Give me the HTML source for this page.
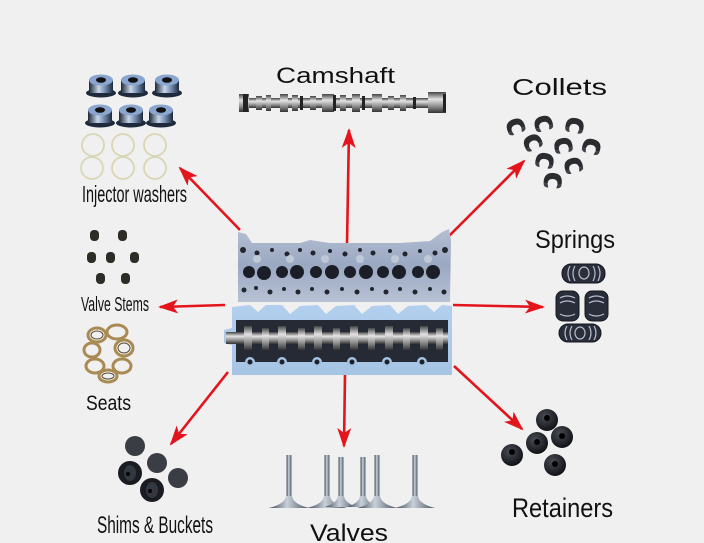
<!DOCTYPE html>
<html><head><meta charset="utf-8"><style>
html,body{margin:0;padding:0;background:#f0f0f0;}
svg{display:block;}
text{font-family:"Liberation Sans",sans-serif;fill:#111;}
</style></head><body>
<svg width="704" height="543" viewBox="0 0 704 543" xmlns="http://www.w3.org/2000/svg">
<defs>
 <linearGradient id="metal" x1="0" y1="0" x2="0" y2="1">
  <stop offset="0" stop-color="#444"/><stop offset="0.35" stop-color="#e4e4e4"/><stop offset="0.7" stop-color="#8a8a8a"/><stop offset="1" stop-color="#333"/>
 </linearGradient>
 <linearGradient id="metalv" x1="0" y1="0" x2="1" y2="0">
  <stop offset="0" stop-color="#3a4450"/><stop offset="0.45" stop-color="#c8d0da"/><stop offset="1" stop-color="#4a5560"/>
 </linearGradient>
 <linearGradient id="cyl" x1="0" y1="0" x2="1" y2="0">
  <stop offset="0" stop-color="#1c2838"/><stop offset="0.4" stop-color="#c8d6ea"/><stop offset="0.7" stop-color="#6d84a6"/><stop offset="1" stop-color="#1c2838"/>
 </linearGradient>
 <linearGradient id="upper" x1="0" y1="0" x2="0" y2="1">
  <stop offset="0" stop-color="#b4bfd2"/><stop offset="0.5" stop-color="#9aa8c2"/><stop offset="1" stop-color="#b8c2d4"/>
 </linearGradient>
 <linearGradient id="lower" x1="0" y1="0" x2="0" y2="1">
  <stop offset="0" stop-color="#b2cfee"/><stop offset="1" stop-color="#a6c4e4"/>
 </linearGradient>
 <radialGradient id="ret" cx="0.4" cy="0.35" r="0.7">
  <stop offset="0" stop-color="#4a4e56"/><stop offset="1" stop-color="#0c0d10"/>
 </radialGradient>
 <marker id="ah" viewBox="0 0 20 14" refX="18" refY="7" markerWidth="20" markerHeight="14" markerUnits="userSpaceOnUse" orient="auto">
  <path d="M0,0 L20,7 L0,14 L5,7 Z" fill="#e3141c"/>
 </marker>
 <g id="collet"><path d="M-9,5 Q-10,-6 0,-6 Q10,-6 9,5 L5,5 Q5,0 0,0 Q-5,0 -5,5Z" fill="#2a2c30"/><path d="M-9,5 Q-9,9 -4,9 L-5,5Z M9,5 Q9,9 4,9 L5,5Z" fill="#3d4046"/></g>
 <g id="hat"><ellipse cx="0" cy="9" rx="15" ry="4.5" fill="#1e2a3c"/><rect x="-12" y="-4" width="24" height="13" fill="url(#cyl)"/><ellipse cx="0" cy="-4" rx="12" ry="5.5" fill="#8aa6cf"/><ellipse cx="0" cy="-4" rx="5" ry="2.8" fill="#111"/></g>
</defs>

<!-- Arrows -->
<g stroke="#e3141c" stroke-width="2.6" fill="none" marker-end="url(#ah)">
 <line x1="347" y1="244" x2="349" y2="130"/>
 <line x1="240" y1="230" x2="180" y2="168"/>
 <line x1="448" y1="237" x2="524" y2="161"/>
 <line x1="453" y1="305" x2="543" y2="307"/>
 <line x1="225" y1="305" x2="160" y2="307"/>
 <line x1="228" y1="372" x2="171" y2="444"/>
 <line x1="345" y1="374" x2="344" y2="446"/>
 <line x1="454" y1="366" x2="522" y2="429"/>
</g>

<!-- Engine head upper -->
<path d="M238,232 L246,234 L252,243 L300,243 L310,240 L330,243 L400,243 L430,241 L442,232 L449,229 L451,240 L450,302 L238,302 Z" fill="url(#upper)"/>
<g fill="#1b1e26">
 <circle cx="249" cy="272" r="6"/><circle cx="264" cy="273" r="7"/><circle cx="282" cy="272" r="6"/><circle cx="297" cy="272" r="7"/>
 <circle cx="316" cy="272" r="6"/><circle cx="332" cy="272" r="7"/><circle cx="350" cy="272" r="6"/><circle cx="366" cy="272" r="7"/>
 <circle cx="383" cy="272" r="6"/><circle cx="399" cy="272" r="7"/><circle cx="418" cy="272" r="6"/><circle cx="433" cy="272" r="7"/>
</g>
<g fill="#22262e">
 <circle cx="243" cy="250" r="3"/><circle cx="257" cy="253" r="2.5"/><circle cx="272" cy="250" r="2"/><circle cx="287" cy="254" r="2.5"/><circle cx="300" cy="250" r="2"/><circle cx="313" cy="253" r="2.5"/><circle cx="330" cy="251" r="2"/><circle cx="345" cy="254" r="2.5"/><circle cx="360" cy="250" r="2"/><circle cx="373" cy="253" r="2.5"/><circle cx="390" cy="251" r="2"/><circle cx="405" cy="254" r="2.5"/><circle cx="420" cy="251" r="2"/><circle cx="435" cy="253" r="2.5"/><circle cx="445" cy="250" r="3"/>
 <circle cx="244" cy="290" r="2.5"/><circle cx="256" cy="288" r="2"/><circle cx="270" cy="292" r="2.5"/><circle cx="284" cy="289" r="2"/><circle cx="298" cy="292" r="2.5"/><circle cx="312" cy="289" r="2"/><circle cx="327" cy="292" r="2.5"/><circle cx="342" cy="289" r="2"/><circle cx="357" cy="292" r="2.5"/><circle cx="372" cy="289" r="2"/><circle cx="386" cy="292" r="2.5"/><circle cx="400" cy="289" r="2"/><circle cx="415" cy="292" r="2.5"/><circle cx="430" cy="289" r="2"/><circle cx="444" cy="292" r="2.5"/>
</g>
<g fill="#c9d0dc" opacity="0.8">
 <circle cx="257" cy="259" r="4"/><circle cx="290" cy="259" r="4"/><circle cx="325" cy="259" r="4"/><circle cx="360" cy="259" r="4"/><circle cx="395" cy="259" r="4"/><circle cx="428" cy="259" r="4"/>
</g>

<!-- Engine head lower -->
<path d="M232,307 L250,305 L258,312 L266,305 L282,305 L290,314 L300,306 L318,305 L326,314 L336,306 L354,305 L362,314 L372,306 L390,305 L398,314 L408,306 L426,305 L434,312 L442,305 L452,306 L452,375 L232,375 L232,345 L224,343 L224,330 L232,328 Z" fill="url(#lower)"/>
<rect x="236" y="320" width="212" height="42" fill="#262a34"/>
<rect x="226" y="332" width="222" height="12" fill="url(#metal)"/>
<g fill="url(#metal)">
 <rect x="244" y="326" width="8" height="24"/><rect x="262" y="328" width="7" height="22"/><rect x="278" y="326" width="8" height="24"/><rect x="298" y="328" width="7" height="22"/><rect x="314" y="326" width="8" height="24"/><rect x="333" y="328" width="7" height="22"/><rect x="350" y="326" width="8" height="24"/><rect x="368" y="328" width="7" height="22"/><rect x="385" y="326" width="8" height="24"/><rect x="403" y="328" width="7" height="22"/><rect x="420" y="326" width="8" height="24"/><rect x="436" y="328" width="7" height="22"/>
</g>
<g fill="#a4c2e2">
 <circle cx="250" cy="362" r="5"/><circle cx="282" cy="362" r="5"/><circle cx="317" cy="362" r="5"/><circle cx="352" cy="362" r="5"/><circle cx="387" cy="362" r="5"/><circle cx="422" cy="362" r="5"/>
</g>
<g fill="#1c2028">
 <circle cx="250" cy="362" r="2.5"/><circle cx="282" cy="362" r="2.5"/><circle cx="317" cy="362" r="2.5"/><circle cx="352" cy="362" r="2.5"/><circle cx="387" cy="362" r="2.5"/><circle cx="422" cy="362" r="2.5"/>
</g>

<!-- Camshaft -->
<rect x="240" y="98" width="206" height="10" fill="url(#metal)"/>
<g fill="url(#metal)">
 <rect x="239" y="94" width="10" height="18"/><rect x="256" y="96" width="6" height="14"/><rect x="266" y="95" width="5" height="16"/><rect x="280" y="94" width="8" height="18"/><rect x="292" y="95" width="6" height="16"/><rect x="310" y="96" width="6" height="14"/><rect x="322" y="94" width="12" height="18"/><rect x="340" y="95" width="6" height="16"/><rect x="352" y="94" width="8" height="18"/><rect x="372" y="94" width="10" height="18"/><rect x="388" y="96" width="6" height="14"/><rect x="400" y="95" width="6" height="16"/><rect x="428" y="92" width="18" height="21"/>
</g>
<g fill="#222">
 <rect x="243" y="94" width="5" height="18"/><rect x="300" y="96" width="3" height="14"/><rect x="333" y="95" width="3" height="16"/><rect x="362" y="96" width="3" height="14"/><rect x="413" y="97" width="3" height="12"/><rect x="443" y="94" width="3" height="18"/>
</g>

<!-- Injector washers -->
<use href="#hat" x="101" y="84"/><use href="#hat" x="133" y="84"/><use href="#hat" x="167" y="84"/>
<use href="#hat" x="100" y="114"/><use href="#hat" x="131" y="114"/><use href="#hat" x="161" y="114"/>
<g fill="none" stroke="#d8d6b4" stroke-width="1.8">
 <circle cx="93" cy="145" r="11"/><circle cx="123" cy="145" r="11"/><circle cx="155" cy="145" r="11"/>
 <circle cx="92" cy="168" r="11"/><circle cx="123" cy="168" r="11"/><circle cx="155" cy="168" r="11"/>
</g>

<!-- Collets -->
<use href="#collet" transform="translate(515,125) rotate(-20)"/>
<use href="#collet" transform="translate(543,122) rotate(-15)"/>
<use href="#collet" transform="translate(575,124) rotate(10)"/>
<use href="#collet" transform="translate(532,141) rotate(-25)"/>
<use href="#collet" transform="translate(563,144) rotate(-10)"/>
<use href="#collet" transform="translate(592,145) rotate(15)"/>
<use href="#collet" transform="translate(545,159) rotate(10)"/>
<use href="#collet" transform="translate(573,164) rotate(-15)"/>
<use href="#collet" transform="translate(553,179) rotate(5)"/>

<!-- Springs -->
<g fill="#2a2d3a" stroke="#15171e" stroke-width="1">
 <rect x="562" y="264" width="43" height="19" rx="9"/>
 <rect x="556" y="291" width="23" height="30" rx="7"/>
 <rect x="585" y="291" width="23" height="30" rx="7"/>
 <rect x="559" y="324" width="42" height="18" rx="9"/>
</g>
<g fill="none" stroke="#b8bccc" stroke-width="1.2">
 <path d="M570,266 Q566,273 570,281 M575,266 Q571,273 575,281 M593,266 Q597,273 593,281 M598,266 Q602,273 598,281"/>
 <ellipse cx="584" cy="273" rx="5" ry="6"/>
 <path d="M560,298 Q567,294 575,298 M560,303 Q567,299 575,303 M560,314 Q567,318 575,314 M589,298 Q596,294 604,298 M589,303 Q596,299 604,303 M589,314 Q596,318 604,314"/>
 <path d="M567,326 Q563,333 567,340 M572,326 Q568,333 572,340 M589,326 Q593,333 589,340 M594,326 Q598,333 594,340"/>
 <ellipse cx="580" cy="333" rx="5" ry="6"/>
</g>

<!-- Valve stems seals -->
<g fill="#2e2c26">
 <rect x="90" y="230" width="9" height="11" rx="4"/><rect x="118" y="230" width="9" height="11" rx="4"/>
 <rect x="87" y="252" width="9" height="11" rx="4"/><rect x="106" y="252" width="9" height="11" rx="4"/><rect x="130" y="252" width="9" height="11" rx="4"/>
 <rect x="96" y="273" width="9" height="11" rx="4"/><rect x="121" y="273" width="9" height="11" rx="4"/>
</g>

<!-- Seats -->
<g fill="none" stroke="#a88a52" stroke-width="3">
 <ellipse cx="97" cy="335" rx="9" ry="7"/><ellipse cx="117" cy="332" rx="10" ry="7"/>
 <ellipse cx="92" cy="350" rx="8" ry="7"/><ellipse cx="124" cy="348" rx="9" ry="8"/>
 <ellipse cx="95" cy="366" rx="9" ry="7"/><ellipse cx="122" cy="366" rx="9" ry="7"/><ellipse cx="108" cy="376" rx="9" ry="6"/>
</g>
<g fill="none" stroke="#5a4a30" stroke-width="1">
 <ellipse cx="97" cy="335" rx="6" ry="4"/><ellipse cx="124" cy="348" rx="6" ry="5"/><ellipse cx="108" cy="376" rx="6" ry="3"/>
</g>

<!-- Shims & Buckets -->
<g fill="#3a3d44">
 <circle cx="135" cy="446" r="10"/><circle cx="157" cy="463" r="10"/><circle cx="178" cy="478" r="10"/>
</g>
<g>
 <circle cx="130" cy="473" r="12" fill="#1a1c22"/><ellipse cx="130" cy="473" rx="6" ry="8" fill="#33373f"/><circle cx="128" cy="474" r="2" fill="#000"/>
 <circle cx="152" cy="490" r="12" fill="#1a1c22"/><ellipse cx="152" cy="490" rx="6" ry="8" fill="#33373f"/><circle cx="150" cy="491" r="2" fill="#000"/>
</g>

<!-- Valves -->
<g fill="url(#metalv)">
 <g transform="translate(289,0)"><rect x="-2.5" y="455" width="5" height="44"/><path d="M-3,496 Q-4,504 -20,508 L20,508 Q4,504 3,496Z"/></g>
 <g transform="translate(327,0)"><rect x="-2.5" y="455" width="5" height="44"/><path d="M-3,496 Q-4,504 -20,508 L20,508 Q4,504 3,496Z"/></g>
 <g transform="translate(341,0)"><rect x="-2.5" y="457" width="5" height="42"/><path d="M-3,496 Q-4,503 -16,507 L16,507 Q4,503 3,496Z"/></g>
 <g transform="translate(363,0)"><rect x="-2.5" y="457" width="5" height="42"/><path d="M-3,496 Q-4,503 -16,507 L16,507 Q4,503 3,496Z"/></g>
 <g transform="translate(377,0)"><rect x="-2.5" y="455" width="5" height="44"/><path d="M-3,496 Q-4,504 -20,508 L20,508 Q4,504 3,496Z"/></g>
 <g transform="translate(415,0)"><rect x="-2.5" y="455" width="5" height="44"/><path d="M-3,496 Q-4,504 -20,508 L20,508 Q4,504 3,496Z"/></g>
</g>

<!-- Retainers -->
<g>
 <circle cx="547" cy="420" r="11" fill="url(#ret)"/><circle cx="547" cy="418" r="3" fill="#000"/>
 <circle cx="562" cy="437" r="11" fill="url(#ret)"/><circle cx="562" cy="436" r="3" fill="#000"/>
 <circle cx="537" cy="443" r="11" fill="url(#ret)"/><circle cx="537" cy="442" r="3" fill="#000"/>
 <circle cx="512" cy="455" r="11" fill="url(#ret)"/><circle cx="512" cy="452" r="3" fill="#000"/>
 <circle cx="555" cy="465" r="11" fill="url(#ret)"/><circle cx="555" cy="464" r="3" fill="#000"/>
</g>

<!-- Labels -->
<text x="276" y="83" font-family="DejaVu Sans, sans-serif" font-size="22" textLength="119" lengthAdjust="spacingAndGlyphs">Camshaft</text>
<text x="512" y="95" font-family="DejaVu Sans, sans-serif" font-size="23" textLength="95" lengthAdjust="spacingAndGlyphs">Collets</text>
<text x="535" y="248" font-size="25" textLength="80" lengthAdjust="spacingAndGlyphs">Springs</text>
<text x="82" y="202" font-size="23" textLength="105" lengthAdjust="spacingAndGlyphs">Injector washers</text>
<text x="81" y="311" font-size="20" textLength="68" lengthAdjust="spacingAndGlyphs">Valve Stems</text>
<text x="86" y="410" font-size="21" textLength="45" lengthAdjust="spacingAndGlyphs">Seats</text>
<text x="97" y="533" font-size="24" textLength="116" lengthAdjust="spacingAndGlyphs">Shims &amp; Buckets</text>
<text x="310" y="541" font-family="DejaVu Sans, sans-serif" font-size="24" textLength="78" lengthAdjust="spacingAndGlyphs">Valves</text>
<text x="512" y="517" font-size="27" textLength="101" lengthAdjust="spacingAndGlyphs">Retainers</text>
</svg>
</body></html>
